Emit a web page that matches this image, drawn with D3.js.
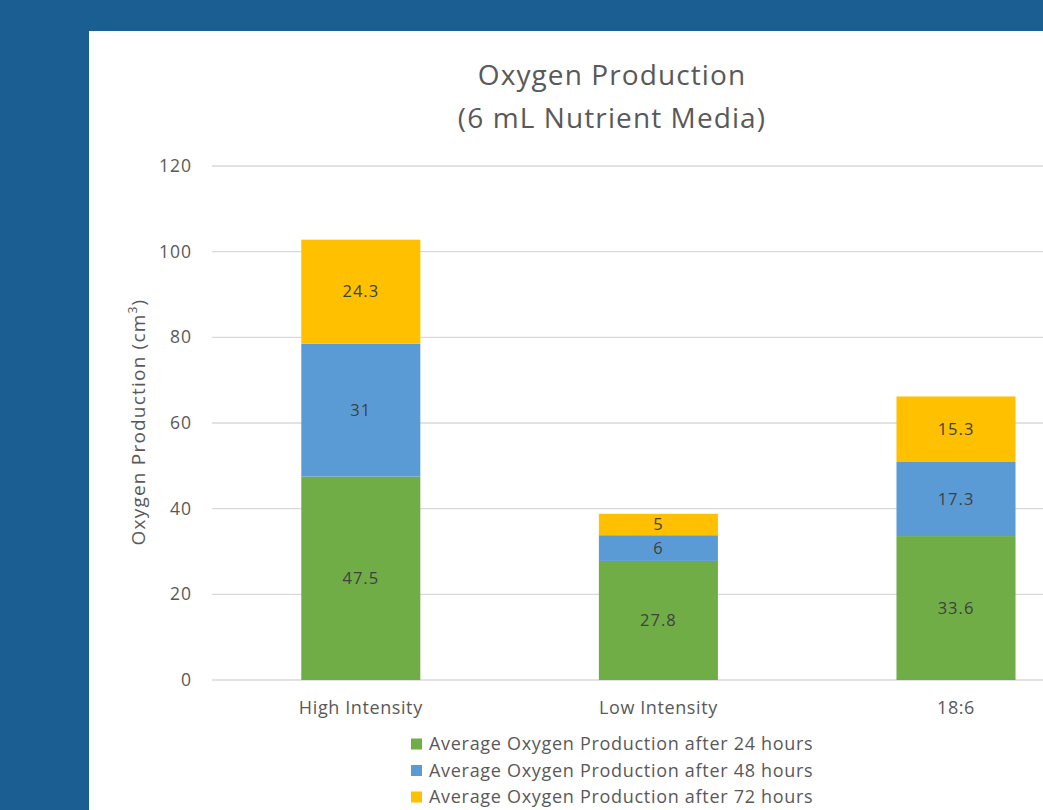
<!DOCTYPE html>
<html><head><meta charset="utf-8">
<script src="https://cdn.jsdelivr.net/npm/d3@7/dist/d3.min.js"></script>
<style>
html,body{margin:0;padding:0;background:#1b5e92;overflow:hidden;}
svg{display:block;}
text{font-family:"Open Sans","Noto Sans",sans-serif;}
</style></head>
<body>
<svg id="c" width="1043" height="810"></svg>
<script>
const categories = ["High Intensity", "Low Intensity", "18:6"];
const seriesNames = [
  "Average Oxygen Production after 24 hours",
  "Average Oxygen Production after 48 hours",
  "Average Oxygen Production after 72 hours"
];
const values24 = [47.5, 27.8, 33.6];
const values48 = [31, 6, 17.3];
const values72 = [24.3, 5, 15.3];
const yTicks = [0, 20, 40, 60, 80, 100, 120];
const colors = ["#70ad47", "#5b9bd5", "#ffc000"];

const svg = d3.select("#c");
// white chart panel
svg.append("rect").attr("x", 89).attr("y", 31).attr("width", 1100).attr("height", 900).attr("fill", "#ffffff");

const y = d3.scaleLinear().domain([0, 120]).range([680, 166]);
const x = d3.scaleBand().domain(categories).range([212, 212 + 3 * 297.6]).paddingInner(0.6).paddingOuter(0.3);

// gridlines
svg.append("g").selectAll("line").data(yTicks).join("line")
  .attr("x1", 212).attr("x2", 1150)
  .attr("y1", d => y(d)).attr("y2", d => y(d))
  .attr("stroke", "#d9d9d9").attr("stroke-width", 1.3);

// y axis labels
const yAxis = svg.append("g").attr("transform", "translate(212,0)")
  .call(d3.axisLeft(y).tickValues(yTicks).tickSize(0).tickPadding(20));
yAxis.select(".domain").remove();
yAxis.selectAll("text").attr("fill", "#595959").attr("font-size", 17.5)
  .style("letter-spacing", "1px").style("font-family", '"Open Sans",sans-serif');

// stacked bars
const rows = categories.map((c, i) => ({ cat: c, s0: values24[i], s1: values48[i], s2: values72[i] }));
const stack = d3.stack().keys(["s0", "s1", "s2"])(rows);
const g = svg.append("g");
stack.forEach((layer, li) => {
  g.selectAll(".b" + li).data(layer).join("rect")
    .attr("x", d => x(d.data.cat))
    .attr("width", x.bandwidth())
    .attr("y", d => y(d[1]))
    .attr("height", d => y(d[0]) - y(d[1]))
    .attr("fill", colors[li]);
  g.selectAll(".t" + li).data(layer).join("text")
    .attr("x", d => x(d.data.cat) + x.bandwidth() / 2)
    .attr("y", d => (y(d[0]) + y(d[1])) / 2)
    .attr("dy", "0.35em")
    .attr("text-anchor", "middle")
    .attr("font-size", 16.5)
    .style("letter-spacing", "1px")
    .attr("fill", "#404040")
    .text(d => d.data["s" + li]);
});

// x axis labels
const xAxis = svg.append("g").attr("transform", "translate(0,680)")
  .call(d3.axisBottom(x).tickSize(0).tickPadding(21));
xAxis.select(".domain").remove();
xAxis.selectAll("text").attr("fill", "#595959").attr("font-size", 18)
  .style("letter-spacing", "0.6px").style("font-family", '"Open Sans",sans-serif');

// title
const title = svg.append("text").attr("x", 612).attr("text-anchor", "middle").attr("fill", "#595959")
  .attr("font-size", 28).style("letter-spacing", "1.1px");
title.append("tspan").attr("x", 612).attr("y", 85).text("Oxygen Production");
title.append("tspan").attr("x", 612).attr("y", 128).text("(6 mL Nutrient Media)");

// y axis title
const yt = svg.append("text").attr("transform", "translate(145,422) rotate(-90)")
  .attr("text-anchor", "middle").attr("fill", "#595959").attr("font-size", 19).style("letter-spacing", "1.2px");
yt.append("tspan").text("Oxygen Production (cm");
yt.append("tspan").attr("font-size", 12).attr("dy", -8).text("3");
yt.append("tspan").attr("dy", 8).text(")");

// legend
const lg = svg.append("g");
seriesNames.forEach((n, i) => {
  const cy = 744 + i * 26.5;
  lg.append("rect").attr("x", 411).attr("y", cy - 5.5).attr("width", 11).attr("height", 11).attr("fill", colors[i]);
  lg.append("text").attr("x", 429).attr("y", cy).attr("dy", "0.35em")
    .attr("fill", "#595959").attr("font-size", 18).style("letter-spacing", "0.7px").text(n);
});
</script>
</body></html>
